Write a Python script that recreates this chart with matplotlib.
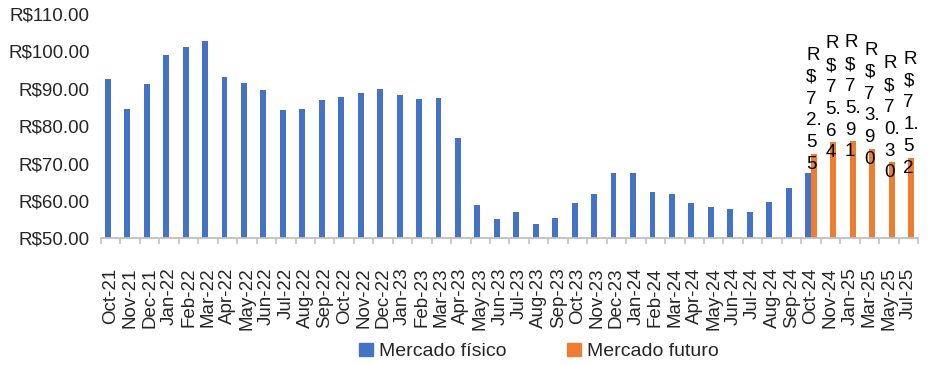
import matplotlib
matplotlib.use("Agg")
import matplotlib.pyplot as plt
from matplotlib.patches import Patch
import numpy as np

categories = ["Oct-21", "Nov-21", "Dec-21", "Jan-22", "Feb-22", "Mar-22", "Apr-22", "May-22",
              "Jun-22", "Jul-22", "Aug-22", "Sep-22", "Oct-22", "Nov-22", "Dec-22", "Jan-23",
              "Feb-23", "Mar-23", "Apr-23", "May-23", "Jun-23", "Jul-23", "Aug-23", "Sep-23",
              "Oct-23", "Nov-23", "Dec-23", "Jan-24", "Feb-24", "Mar-24", "Apr-24", "May-24",
              "Jun-24", "Jul-24", "Aug-24", "Sep-24", "Oct-24", "Nov-24", "Jan-25", "Mar-25",
              "May-25", "Jul-25"]

# Mercado físico: Oct-21 .. Oct-24
fisico = [92.5, 84.5, 91.3, 98.9, 101.1, 102.7, 93.2, 91.6, 89.7, 84.2, 84.5, 87.0,
          87.7, 88.8, 89.8, 88.3, 87.2, 87.6, 76.8, 59.0, 55.2, 57.0, 53.8, 55.3,
          59.5, 61.8, 67.4, 67.4, 62.5, 61.9, 59.4, 58.3, 57.8, 57.1, 59.8, 63.5, 67.5]
# Mercado futuro: Oct-24 .. Jul-25
futuro = [72.55, 75.64, 75.91, 73.90, 70.30, 71.52]
futuro_start = "Oct-24"

yticks = [50, 60, 70, 80, 90, 100, 110]

blue = "#4472C4"
orange = "#ED7D31"
axis_gray = "#BFBFBF"
txt = "#262626"
font = ["Liberation Sans", "DejaVu Sans"]
fs = 13.5

plt.rcParams["font.family"] = font

fig = plt.figure(figsize=(9.34, 3.65), dpi=100)
ax = fig.add_axes([0.1081, 0.3471, 0.8748, 0.6148])

x = np.arange(len(categories))
w = 0.3
x_f = x[:len(fisico)]
i0 = categories.index(futuro_start)
x_u = x[i0:i0 + len(futuro)]

ax.bar(x_f - w / 2, fisico, width=w, color=blue, zorder=2)
ax.bar(x_u + w / 2, futuro, width=w, color=orange, zorder=2)

def wrap_label(v):
    s = "R$" + f"{v:.2f}"
    # Excel wraps the narrow label: one character per line, dot kept with preceding digit
    lines = []
    for ch in s:
        if ch == "." and lines:
            lines[-1] += ch
        else:
            lines.append(ch)
    return "\n".join(lines)

for xi, v in zip(x_u, futuro):
    ax.annotate(wrap_label(v), xy=(xi + w / 2, v), xytext=(0, 44),
                textcoords="offset pixels", ha="center", va="center",
                multialignment="left", fontsize=fs, color="black",
                linespacing=1.37, zorder=3)

ax.set_xlim(-0.5, len(categories) - 0.5)
ax.set_ylim(50, 110)
ax.set_yticks(yticks)
ax.set_yticklabels([f"R${t:.2f}" for t in yticks])
ax.set_xticks(x)
ax.set_xticklabels(categories, rotation=90)
ax.set_xticks(np.arange(-0.5, len(categories), 1.0), minor=True)

for s in ["top", "right", "left"]:
    ax.spines[s].set_visible(False)
ax.spines["bottom"].set_color(axis_gray)
ax.spines["bottom"].set_linewidth(1.3)

ax.tick_params(axis="y", length=0, pad=8, labelsize=fs, labelcolor=txt)
ax.tick_params(axis="x", which="major", length=0, pad=21, labelsize=fs, labelcolor=txt)
ax.tick_params(axis="x", which="minor", length=4, width=1.1, color=axis_gray)

handles = [Patch(color=blue, label="Mercado físico"), Patch(color=orange, label="Mercado futuro")]
fig.legend(handles=handles, loc="center", bbox_to_anchor=(0.577, 0.037), ncol=2,
           frameon=False, fontsize=14, handlelength=0.72, handleheight=0.72,
           handletextpad=0.3, columnspacing=3.1, labelcolor=txt)

fig.savefig("out.png", dpi=100)
